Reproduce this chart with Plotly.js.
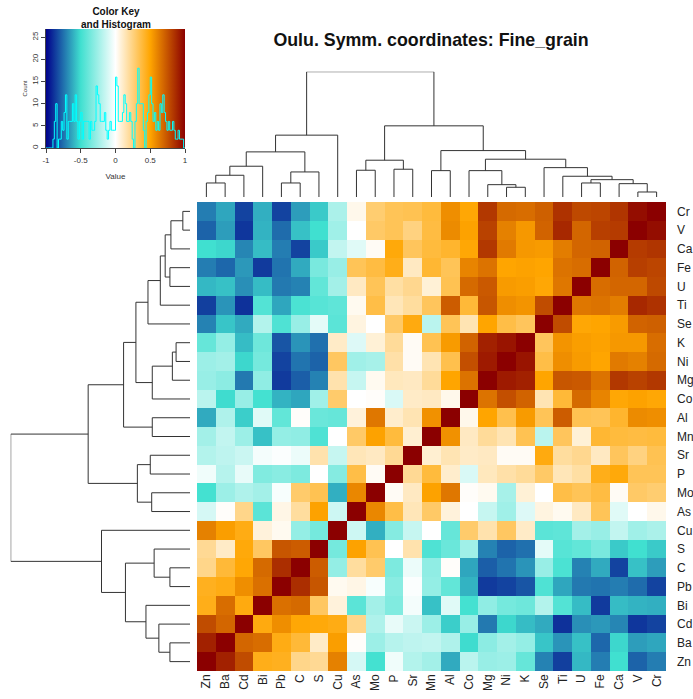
<!DOCTYPE html>
<html><head><meta charset="utf-8">
<script src="https://cdn.plot.ly/plotly-3.0.1.min.js"></script>
<style>html,body{margin:0;padding:0;background:#fff}#chart{width:693px;height:699px}</style>
</head><body><div id="chart"></div>
<script>
// Leaf order (columns left->right, rows bottom->top)
const elements = ["Zn","Ba","Cd","Bi","Pb","C","S","Cu","As","Mo","P","Sr","Mn","Al","Co","Mg","Ni","K","Se","Ti","U","Fe","Ca","V","Cr"];

// Correlations of each element with the elements before it in `elements` (lower triangle)
const corrBa = [0.90];
const corrCd = [0.77, 0.69];
const corrBi = [0.45, 0.67, 0.47];
const corrPb = [0.44, 0.46, 0.57, 0.66];
const corrC  = [0.23, 0.39, 0.49, 0.68, 0.86];
const corrS  = [0.21, 0.11, 0.48, 0.31, 0.74, 0.72];
const corrCu = [0.61, 0.52, 0.46, 0.07, 0.03, -0.28, -0.36];
const corrAs = [-0.11, 0.01, 0.23, -0.43, 0.05, 0.19, 0.51, -0.13];
const corrMo = [-0.49, -0.26, -0.21, -0.24, -0.02, 0.29, 0.34, -0.61, 0.59];
const corrP  = [-0.04, -0.19, -0.06, -0.33, -0.31, -0.34, 0.00, -0.32, 0.36, 0.02];
const corrSr = [-0.20, -0.17, -0.14, -0.03, -0.01, -0.05, 0.16, -0.15, 0.14, 0.12, 0.21];
const corrMn = [-0.24, -0.16, -0.26, -0.57, -0.28, -0.29, -0.46, 0.00, 0.30, 0.51, 0.38, 0.09];
const corrAl = [-0.62, -0.21, -0.54, -0.08, -0.41, 0.01, -0.39, -0.40, 0.07, 0.64, 0.10, 0.15, 0.56];
const corrCo = [-0.18, -0.51, -0.27, -0.49, -0.60, -0.63, -0.25, 0.29, 0.00, 0.01, -0.10, 0.11, 0.12, 0.04];
const corrMg = [-0.27, -0.30, -0.73, -0.29, -0.87, -0.79, -0.71, 0.16, -0.15, 0.03, 0.13, 0.12, 0.20, 0.50, 0.65];
const corrNi = [-0.26, -0.24, -0.52, -0.36, -0.85, -0.74, -0.78, 0.31, -0.25, -0.23, 0.17, 0.02, 0.15, 0.35, 0.76, 0.92];
const corrK  = [-0.40, -0.28, -0.58, -0.38, -0.81, -0.67, -0.75, 0.11, -0.09, 0.08, 0.20, 0.02, 0.34, 0.53, 0.70, 0.90, 0.94];
const corrSe = [-0.71, -0.56, -0.62, -0.20, -0.46, -0.27, -0.07, -0.43, 0.06, 0.00, 0.30, 0.47, -0.18, 0.33, 0.15, 0.50, 0.36, 0.32];
const corrTi = [-0.86, -0.67, -0.89, -0.45, -0.63, -0.47, -0.44, -0.42, 0.03, 0.36, 0.14, 0.19, 0.32, 0.72, 0.39, 0.74, 0.57, 0.55, 0.77];
const corrU  = [-0.59, -0.57, -0.68, -0.58, -0.73, -0.71, -0.41, -0.24, 0.12, 0.33, 0.18, 0.22, 0.08, 0.34, 0.68, 0.73, 0.53, 0.52, 0.49, 0.64];
const corrFe = [-0.72, -0.77, -0.66, -0.87, -0.74, -0.62, -0.35, -0.27, 0.33, 0.37, 0.45, 0.12, 0.40, 0.33, 0.60, 0.65, 0.50, 0.51, 0.50, 0.65, 0.67];
const corrCa = [-0.50, -0.52, -0.70, -0.58, -0.72, -0.85, -0.55, -0.16, -0.08, 0.02, 0.48, 0.32, 0.38, 0.41, 0.49, 0.83, 0.63, 0.54, 0.53, 0.62, 0.69, 0.70];
const corrV  = [-0.78, -0.65, -0.88, -0.60, -0.76, -0.57, -0.50, -0.25, 0.00, 0.30, 0.33, 0.25, 0.37, 0.58, 0.51, 0.80, 0.61, 0.54, 0.70, 0.88, 0.69, 0.81, 0.82];
const corrCr = [-0.72, -0.63, -0.85, -0.61, -0.85, -0.65, -0.55, -0.22, 0.04, 0.28, 0.33, 0.34, 0.38, 0.57, 0.49, 0.83, 0.68, 0.67, 0.71, 0.85, 0.78, 0.79, 0.84, 0.96];

// Hierarchical clustering merges: [left, right, height]; strings = leaves, numbers = earlier merge index
const merges = [
  ["V","Cr",5], ["Ni","K",9.7], ["Mg",1,12.3], ["Ca",0,13.3], ["Zn","Ba",14],
  ["Pb","C",14], ["U","Fe",14], [6,3,17.3], ["Ti",7,20.7], [4,"Cd",21.7],
  [5,"S",25], ["Mn","Al",26.3], ["Co",2,26.3], ["As","Mo",26.7], ["P","Sr",27.7],
  ["Se",8,29.3], [9,"Bi",30.7], [13,14,36.7], [12,15,37.7], [16,10,45],
  [11,18,46.3], [19,"Cu",61.7], [17,20,71], [21,22,125]
];

const keyTicks = [-1,-0.5,0,0.5,1];
const keyTickText = ["-1","-0.5","0","0.5","1"];
const countTicks = [0,5,10,15,20,25];

// ---- build symmetric matrix ----
const lower = [[], corrBa, corrCd, corrBi, corrPb, corrC, corrS, corrCu, corrAs, corrMo, corrP, corrSr, corrMn, corrAl, corrCo, corrMg, corrNi, corrK, corrSe, corrTi, corrU, corrFe, corrCa, corrV, corrCr];
const n = elements.length;
const z = [];
for (let i = 0; i < n; i++) {
  const row = [];
  for (let j = 0; j < n; j++) {
    if (i === j) row.push(1);
    else if (j < i) row.push(lower[i][j]);
    else row.push(lower[j][i]);
  }
  z.push(row);
}

// ---- dendrogram segments ----
function dendro(){
  const pos = {}; elements.forEach((e,i)=>pos[e]=i);
  const cx = [], ch = [];
  const P = [], H = [];
  merges.forEach((m,k)=>{
    const pt = c => typeof c === "string" ? [pos[c],0] : [cx[c], ch[c]];
    const a = pt(m[0]), b = pt(m[1]), h = m[2];
    P.push(a[0], a[0], b[0], b[0], null);
    H.push(a[1], h, h, b[1], null);
    cx[k] = (a[0]+b[0])/2; ch[k] = h;
  });
  return {P,H};
}
const d = dendro();

// ---- histogram of off-diagonal values (step line like R) ----
const offDiag = [];
for (let i=0;i<n;i++) for (let j=0;j<n;j++) if (i!==j) offDiag.push(z[i][j]);
const nb = 100, bw = 2/nb;
const counts = new Array(nb).fill(0);
offDiag.forEach(v=>{ let k=Math.floor((v+1)/bw+1e-9); if(k>=nb) k=nb-1; if(k<0) k=0; counts[k]++; });
const hx = [], hy = [];
for (let k=0;k<=nb;k++){ hx.push(-1+k*bw); hy.push(k<nb?counts[k]:counts[nb-1]); }

const cscale = [[0,'#00008B'],[0.25,'#40E0D0'],[0.5,'#FFFFFF'],[0.75,'#FFA500'],[1,'#8B0000']];
const font = 'Liberation Sans, Arial, Helvetica, sans-serif';

const traces = [
  {type:'heatmap', x:elements, y:elements, z:z, zmin:-1, zmax:1, colorscale:cscale, showscale:false, xaxis:'x', yaxis:'y', hoverinfo:'skip'},
  {type:'scatter', mode:'lines', x:d.P, y:d.H, xaxis:'x2', yaxis:'y2', line:{color:'#333', width:1}, connectgaps:false, hoverinfo:'skip'},
  {type:'scatter', mode:'lines', x:d.H, y:d.P, xaxis:'x3', yaxis:'y3', line:{color:'#333', width:1}, connectgaps:false, hoverinfo:'skip'},
  {type:'scatter', mode:'lines', x:[-1,1,1,-1,-1], y:[0,0,26.85,26.85,0], fill:'toself',
   fillgradient:{type:'horizontal', colorscale:cscale}, line:{width:0}, xaxis:'x4', yaxis:'y4', hoverinfo:'skip'},
  {type:'scatter', mode:'lines', x:hx, y:hy, line:{shape:'hv', color:'#00FFFF', width:1}, xaxis:'x4', yaxis:'y4', hoverinfo:'skip'}
];

const hmX = [197/693, 666/693], hmY = [1-671/699, 1-202/699];
const layout = {
  width:693, height:699, margin:{l:0,r:0,t:0,b:0}, showlegend:false,
  paper_bgcolor:'#fff', plot_bgcolor:'#fff', font:{family:font, color:'#222'},
  title:{text:'<b>Oulu. Symm. coordinates: Fine_grain</b>', x:431/693, xanchor:'center', y:1-40/699, yanchor:'middle', font:{size:17.8, family:font, color:'#111'}},
  xaxis:{domain:hmX, range:[-0.5,24.5], anchor:'y', tickangle:-90, ticks:'', showgrid:false, zeroline:false, showline:false, tickfont:{size:12, color:'#222'}, fixedrange:true},
  yaxis:{domain:hmY, range:[-0.5,24.5], anchor:'x', side:'right', ticks:'', ticklabelstandoff:10, showgrid:false, zeroline:false, showline:false, tickfont:{size:12, color:'#222'}, fixedrange:true},
  xaxis2:{domain:hmX, range:[-0.5,24.5], anchor:'y2', visible:false},
  yaxis2:{domain:[1-197/699, 1-71.7/699], range:[0,125], anchor:'x2', visible:false},
  xaxis3:{domain:[10.7/693, 190/693], range:[125,0], anchor:'y3', visible:false},
  yaxis3:{domain:hmY, range:[-0.5,24.5], anchor:'x3', visible:false},
  xaxis4:{domain:[46/693, 185/693], range:[-1,1], anchor:'y4', tickvals:keyTicks, ticktext:keyTickText, ticks:'outside', ticklen:4, tickcolor:'#444',
          showline:true, linecolor:'#444', linewidth:1, showgrid:false, zeroline:false, tickfont:{size:8, color:'#333'},
          title:{text:'Value', font:{size:8, color:'#333'}, standoff:9}},
  yaxis4:{domain:[1-148/699, 1-29/699], range:[0,26.85], anchor:'x4', tickvals:countTicks, tickangle:-90, ticks:'outside', ticklen:4, tickcolor:'#444',
          showline:true, linecolor:'#444', linewidth:1, showgrid:false, zeroline:false, tickfont:{size:8, color:'#333'},
          title:{text:'Count', font:{size:6, color:'#333'}, standoff:2}},
  annotations:[
    {text:'<b>Color Key<br>and Histogram</b>', xref:'paper', yref:'paper', x:116/693, y:1-18/699, xanchor:'center', yanchor:'middle', showarrow:false, font:{size:10, color:'#111', family:font}}
  ]
};
Plotly.newPlot('chart', traces, layout, {displayModeBar:false, staticPlot:true});
</script>
</body></html>
